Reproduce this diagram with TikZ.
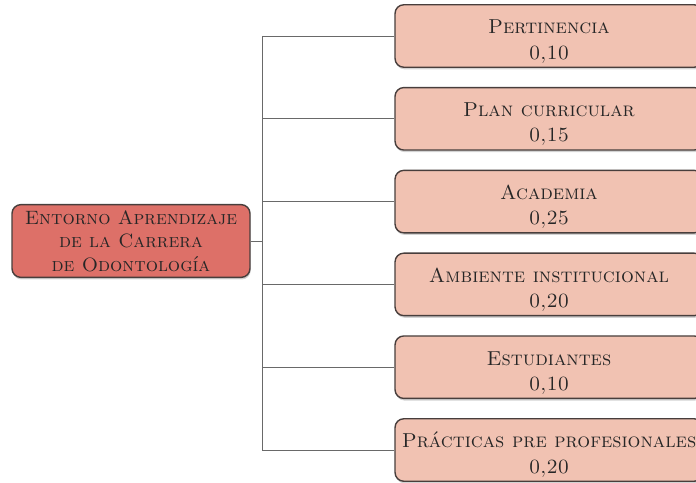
\documentclass[tikz,border=0pt]{standalone}
\usepackage{fontspec}
\usetikzlibrary{shadows}
\definecolor{rama}{RGB}{241,194,178}
\definecolor{raiz}{RGB}{221,112,104}
\definecolor{borde}{RGB}{72,62,60}
\definecolor{linea}{RGB}{105,105,105}
\tikzset{
  caja/.style={draw=borde, line width=0.8pt, rounded corners=5pt, align=center,
    text=black!85,
    drop shadow={shadow xshift=0.4pt, shadow yshift=-1.2pt, opacity=0.35}},
  rama/.style={caja, fill=rama, minimum width=6.16cm, minimum height=1.25cm,
    font=\fontsize{11.5}{14.3}\selectfont\scshape,
    text height=26.2pt, text depth=0pt},
  raiz/.style={caja, fill=raiz, minimum width=4.76cm, minimum height=1.44cm,
    font=\fontsize{11}{13.3}\selectfont\scshape},
  enlace/.style={draw=linea, line width=0.5pt}
}

\begin{document}
\begin{tikzpicture}[x=0.02cm, y=-0.02cm]
      \useasboundingbox (0, 0) rectangle (696, 483);

      \node [raiz] (entorno) at (131, 241) {Entorno Aprendizaje\\de la Carrera\\de Odontología};

      \node [rama] (pertinencia) at (549, 36) {Pertinencia\\0,10};
      \node [rama] (plan) at (549, 118.8) {Plan curricular\\0,15};
      \node [rama] (academia) at (549, 201.6) {Academia\\0,25};
      \node [rama] (ambiente) at (549, 284.4) {Ambiente institucional\\0,20};
      \node [rama] (estudiantes) at (549, 367.2) {Estudiantes\\0,10};
      \node [rama] (practicas) at (549, 450) {Prácticas pre profesionales\\0,20};

      % tronco vertical
      \coordinate (arriba) at (262, 36);
      \coordinate (abajo) at (262, 450);
      \coordinate (medio) at (262, 241);
      \draw [enlace] (arriba) -- (abajo);
      \draw [enlace] (entorno.east) -- (medio);

      \draw [enlace] (arriba) -- (pertinencia.west);
      \draw [enlace] (plan.west -| medio) -- (plan.west);
      \draw [enlace] (academia.west -| medio) -- (academia.west);
      \draw [enlace] (ambiente.west -| medio) -- (ambiente.west);
      \draw [enlace] (estudiantes.west -| medio) -- (estudiantes.west);
      \draw [enlace] (abajo) -- (practicas.west);

\end{tikzpicture}
\end{document}
